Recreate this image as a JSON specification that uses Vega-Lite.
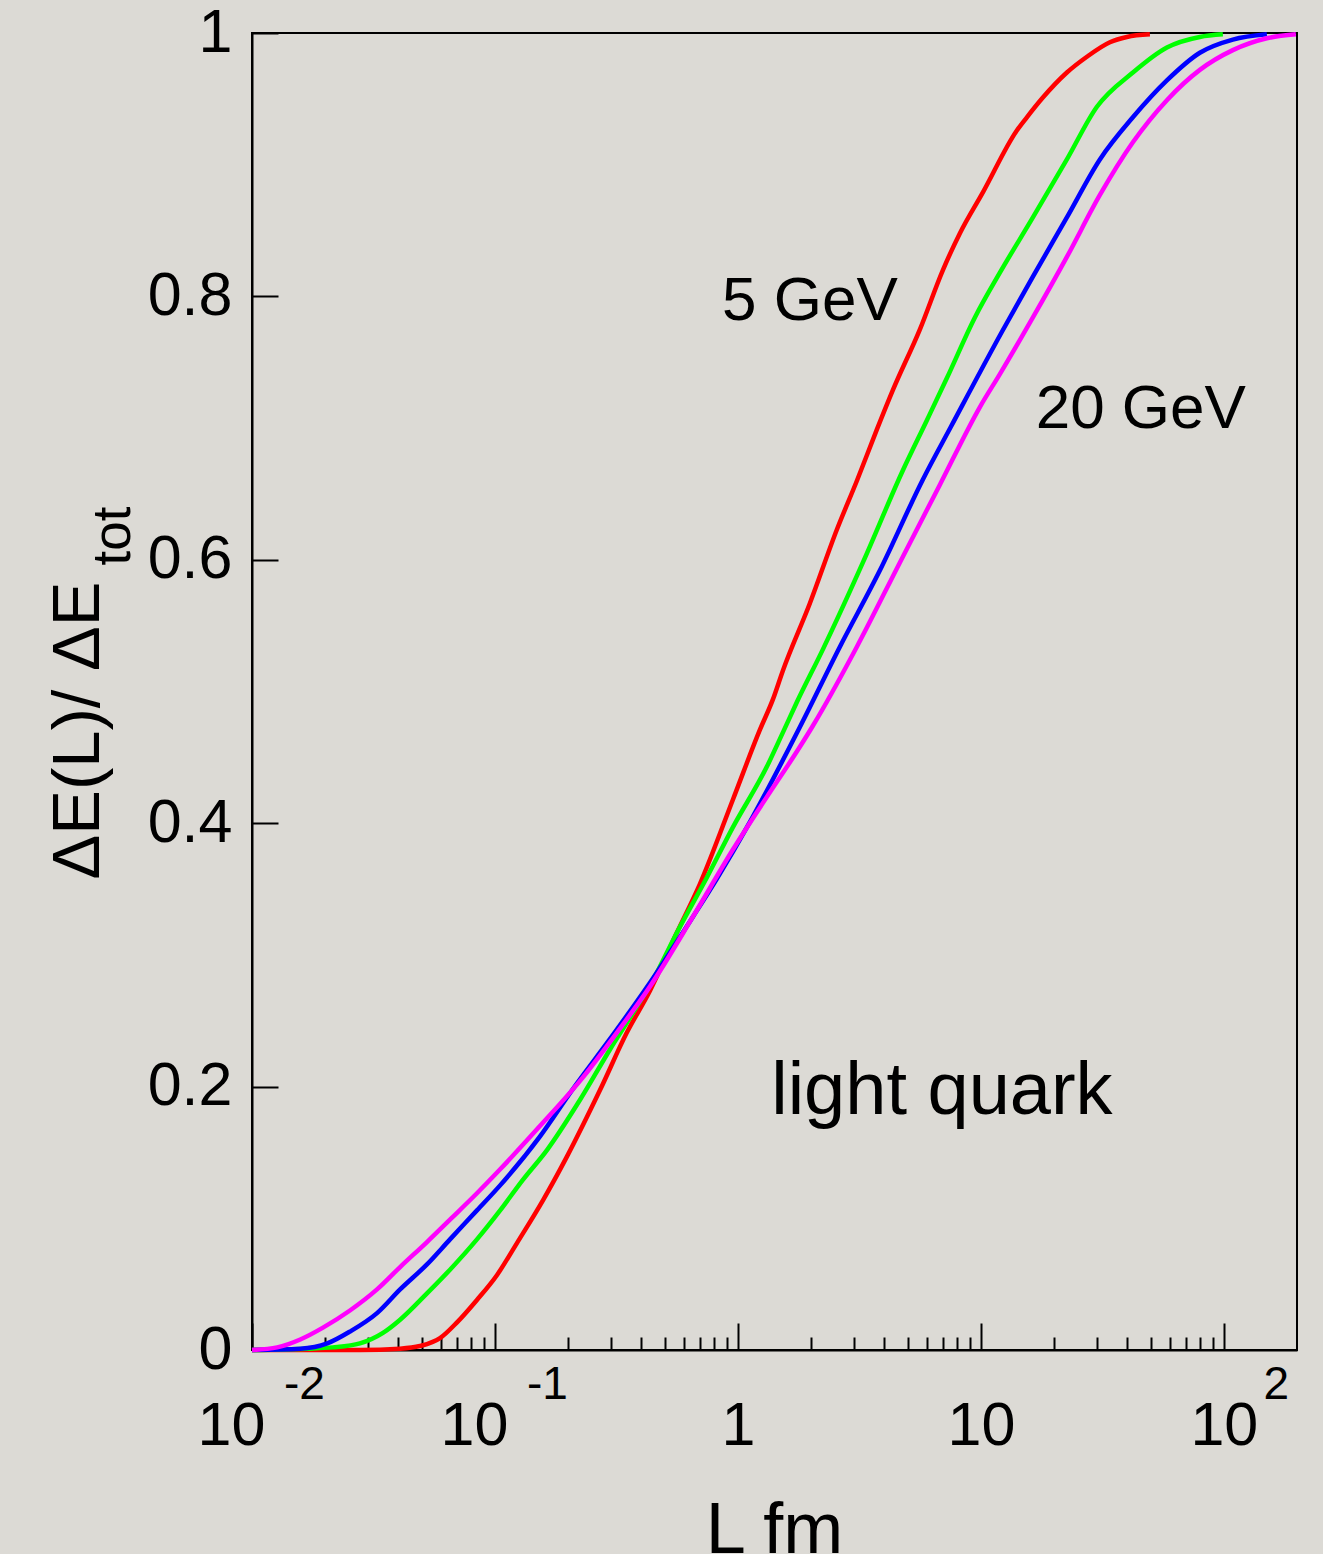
{
  "$schema": "https://vega.github.io/schema/vega-lite/v6.json",
  "width": 1045,
  "height": 1317,
  "autosize": {"type": "none"},
  "padding": {"left": 252, "top": 33, "right": 26, "bottom": 204},
  "background": "#dcdad5",
  "config": {
    "font": "Liberation Sans",
    "view": {"stroke": "#000000", "strokeWidth": 2},
    "axis": {"grid": false}
  },
  "resolve": {"axis": {"x": "independent", "y": "independent"}},
  "layer": [
    {
      "data": {
        "values": [
          {"s": "curve 1 (5 GeV)", "L": 0.01, "f": 0},
          {"s": "curve 1 (5 GeV)", "L": 0.0278, "f": 0},
          {"s": "curve 1 (5 GeV)", "L": 0.0407, "f": 0.001},
          {"s": "curve 1 (5 GeV)", "L": 0.0491, "f": 0.003},
          {"s": "curve 1 (5 GeV)", "L": 0.0594, "f": 0.009},
          {"s": "curve 1 (5 GeV)", "L": 0.0698, "f": 0.021},
          {"s": "curve 1 (5 GeV)", "L": 0.0843, "f": 0.038},
          {"s": "curve 1 (5 GeV)", "L": 0.102, "f": 0.057},
          {"s": "curve 1 (5 GeV)", "L": 0.123, "f": 0.081},
          {"s": "curve 1 (5 GeV)", "L": 0.158, "f": 0.114},
          {"s": "curve 1 (5 GeV)", "L": 0.198, "f": 0.147},
          {"s": "curve 1 (5 GeV)", "L": 0.27, "f": 0.197},
          {"s": "curve 1 (5 GeV)", "L": 0.349, "f": 0.241},
          {"s": "curve 1 (5 GeV)", "L": 0.435, "f": 0.273},
          {"s": "curve 1 (5 GeV)", "L": 0.561, "f": 0.317},
          {"s": "curve 1 (5 GeV)", "L": 0.698, "f": 0.354},
          {"s": "curve 1 (5 GeV)", "L": 0.954, "f": 0.418},
          {"s": "curve 1 (5 GeV)", "L": 1.232, "f": 0.471},
          {"s": "curve 1 (5 GeV)", "L": 1.393, "f": 0.494},
          {"s": "curve 1 (5 GeV)", "L": 1.532, "f": 0.516},
          {"s": "curve 1 (5 GeV)", "L": 1.978, "f": 0.567},
          {"s": "curve 1 (5 GeV)", "L": 2.555, "f": 0.623},
          {"s": "curve 1 (5 GeV)", "L": 3.088, "f": 0.66},
          {"s": "curve 1 (5 GeV)", "L": 3.733, "f": 0.699},
          {"s": "curve 1 (5 GeV)", "L": 4.345, "f": 0.729},
          {"s": "curve 1 (5 GeV)", "L": 5.611, "f": 0.775},
          {"s": "curve 1 (5 GeV)", "L": 6.976, "f": 0.82},
          {"s": "curve 1 (5 GeV)", "L": 8.198, "f": 0.848},
          {"s": "curve 1 (5 GeV)", "L": 10.19, "f": 0.879},
          {"s": "curve 1 (5 GeV)", "L": 14.06, "f": 0.926},
          {"s": "curve 1 (5 GeV)", "L": 15.46, "f": 0.936},
          {"s": "curve 1 (5 GeV)", "L": 17.99, "f": 0.951},
          {"s": "curve 1 (5 GeV)", "L": 22.59, "f": 0.97},
          {"s": "curve 1 (5 GeV)", "L": 27.31, "f": 0.982},
          {"s": "curve 1 (5 GeV)", "L": 33.96, "f": 0.993},
          {"s": "curve 1 (5 GeV)", "L": 39.89, "f": 0.997},
          {"s": "curve 1 (5 GeV)", "L": 49.61, "f": 0.999},

          {"s": "curve 2", "L": 0.01, "f": 0},
          {"s": "curve 2", "L": 0.0168, "f": 0.001},
          {"s": "curve 2", "L": 0.0215, "f": 0.002},
          {"s": "curve 2", "L": 0.0278, "f": 0.005},
          {"s": "curve 2", "L": 0.0346, "f": 0.013},
          {"s": "curve 2", "L": 0.0407, "f": 0.023},
          {"s": "curve 2", "L": 0.0525, "f": 0.043},
          {"s": "curve 2", "L": 0.0653, "f": 0.061},
          {"s": "curve 2", "L": 0.0843, "f": 0.084},
          {"s": "curve 2", "L": 0.105, "f": 0.106},
          {"s": "curve 2", "L": 0.13, "f": 0.129},
          {"s": "curve 2", "L": 0.164, "f": 0.152},
          {"s": "curve 2", "L": 0.224, "f": 0.19},
          {"s": "curve 2", "L": 0.297, "f": 0.228},
          {"s": "curve 2", "L": 0.37, "f": 0.256},
          {"s": "curve 2", "L": 0.447, "f": 0.281},
          {"s": "curve 2", "L": 0.561, "f": 0.317},
          {"s": "curve 2", "L": 0.746, "f": 0.359},
          {"s": "curve 2", "L": 0.954, "f": 0.397},
          {"s": "curve 2", "L": 1.316, "f": 0.443},
          {"s": "curve 2", "L": 1.532, "f": 0.469},
          {"s": "curve 2", "L": 1.749, "f": 0.492},
          {"s": "curve 2", "L": 2.237, "f": 0.532},
          {"s": "curve 2", "L": 3.269, "f": 0.598},
          {"s": "curve 2", "L": 4.776, "f": 0.668},
          {"s": "curve 2", "L": 5.995, "f": 0.706},
          {"s": "curve 2", "L": 7.246, "f": 0.738},
          {"s": "curve 2", "L": 9.447, "f": 0.784},
          {"s": "curve 2", "L": 11.97, "f": 0.818},
          {"s": "curve 2", "L": 16.37, "f": 0.86},
          {"s": "curve 2", "L": 22.59, "f": 0.904},
          {"s": "curve 2", "L": 30.03, "f": 0.944},
          {"s": "curve 2", "L": 42.22, "f": 0.97},
          {"s": "curve 2", "L": 58.28, "f": 0.989},
          {"s": "curve 2", "L": 79.65, "f": 0.997},
          {"s": "curve 2", "L": 99.06, "f": 0.999},

          {"s": "curve 3", "L": 0.01, "f": 0},
          {"s": "curve 3", "L": 0.0158, "f": 0.001},
          {"s": "curve 3", "L": 0.0204, "f": 0.005},
          {"s": "curve 3", "L": 0.0253, "f": 0.014},
          {"s": "curve 3", "L": 0.0327, "f": 0.028},
          {"s": "curve 3", "L": 0.0407, "f": 0.046},
          {"s": "curve 3", "L": 0.0525, "f": 0.065},
          {"s": "curve 3", "L": 0.0653, "f": 0.084},
          {"s": "curve 3", "L": 0.0843, "f": 0.106},
          {"s": "curve 3", "L": 0.105, "f": 0.125},
          {"s": "curve 3", "L": 0.153, "f": 0.162},
          {"s": "curve 3", "L": 0.209, "f": 0.198},
          {"s": "curve 3", "L": 0.297, "f": 0.236},
          {"s": "curve 3", "L": 0.435, "f": 0.279},
          {"s": "curve 3", "L": 0.653, "f": 0.329},
          {"s": "curve 3", "L": 0.82, "f": 0.358},
          {"s": "curve 3", "L": 1.121, "f": 0.401},
          {"s": "curve 3", "L": 1.799, "f": 0.473},
          {"s": "curve 3", "L": 2.629, "f": 0.534},
          {"s": "curve 3", "L": 3.841, "f": 0.592},
          {"s": "curve 3", "L": 5.772, "f": 0.661},
          {"s": "curve 3", "L": 7.525, "f": 0.701},
          {"s": "curve 3", "L": 12.32, "f": 0.7745},
          {"s": "curve 3", "L": 16.37, "f": 0.815},
          {"s": "curve 3", "L": 22.59, "f": 0.86},
          {"s": "curve 3", "L": 30.89, "f": 0.904},
          {"s": "curve 3", "L": 42.22, "f": 0.936},
          {"s": "curve 3", "L": 58.28, "f": 0.964},
          {"s": "curve 3", "L": 79.65, "f": 0.985},
          {"s": "curve 3", "L": 108.9, "f": 0.995},
          {"s": "curve 3", "L": 150.3, "f": 0.999},

          {"s": "curve 4 (20 GeV)", "L": 0.01, "f": 0},
          {"s": "curve 4 (20 GeV)", "L": 0.0127, "f": 0.002},
          {"s": "curve 4 (20 GeV)", "L": 0.0158, "f": 0.008},
          {"s": "curve 4 (20 GeV)", "L": 0.0196, "f": 0.017},
          {"s": "curve 4 (20 GeV)", "L": 0.0253, "f": 0.03},
          {"s": "curve 4 (20 GeV)", "L": 0.0327, "f": 0.046},
          {"s": "curve 4 (20 GeV)", "L": 0.0407, "f": 0.063},
          {"s": "curve 4 (20 GeV)", "L": 0.0525, "f": 0.082},
          {"s": "curve 4 (20 GeV)", "L": 0.0653, "f": 0.099},
          {"s": "curve 4 (20 GeV)", "L": 0.0843, "f": 0.119},
          {"s": "curve 4 (20 GeV)", "L": 0.1048, "f": 0.137},
          {"s": "curve 4 (20 GeV)", "L": 0.1531, "f": 0.17},
          {"s": "curve 4 (20 GeV)", "L": 0.2301, "f": 0.207},
          {"s": "curve 4 (20 GeV)", "L": 0.3177, "f": 0.241},
          {"s": "curve 4 (20 GeV)", "L": 0.4345, "f": 0.276},
          {"s": "curve 4 (20 GeV)", "L": 0.6529, "f": 0.329},
          {"s": "curve 4 (20 GeV)", "L": 0.9537, "f": 0.38},
          {"s": "curve 4 (20 GeV)", "L": 1.316, "f": 0.42},
          {"s": "curve 4 (20 GeV)", "L": 1.799, "f": 0.458},
          {"s": "curve 4 (20 GeV)", "L": 2.035, "f": 0.474},
          {"s": "curve 4 (20 GeV)", "L": 3.088, "f": 0.534},
          {"s": "curve 4 (20 GeV)", "L": 4.642, "f": 0.598},
          {"s": "curve 4 (20 GeV)", "L": 6.78, "f": 0.657},
          {"s": "curve 4 (20 GeV)", "L": 9.906, "f": 0.716},
          {"s": "curve 4 (20 GeV)", "L": 11.97, "f": 0.741},
          {"s": "curve 4 (20 GeV)", "L": 16.37, "f": 0.784},
          {"s": "curve 4 (20 GeV)", "L": 22.59, "f": 0.83},
          {"s": "curve 4 (20 GeV)", "L": 30.89, "f": 0.877},
          {"s": "curve 4 (20 GeV)", "L": 42.22, "f": 0.917},
          {"s": "curve 4 (20 GeV)", "L": 58.28, "f": 0.949},
          {"s": "curve 4 (20 GeV)", "L": 79.65, "f": 0.972},
          {"s": "curve 4 (20 GeV)", "L": 108.9, "f": 0.987},
          {"s": "curve 4 (20 GeV)", "L": 150.3, "f": 0.996},
          {"s": "curve 4 (20 GeV)", "L": 197.9, "f": 0.999}
        ]
      },
      "mark": {"type": "line", "strokeWidth": 4.5, "interpolate": "monotone"},
      "encoding": {
        "x": {
          "field": "L",
          "type": "quantitative",
          "scale": {"type": "log", "domain": [0.01, 200], "nice": false},
          "axis": {
            "orient": "bottom",
            "values": [0.01, 0.1, 1, 10, 100],
            "labelExpr": "datum.value < 0.5 ? '' : (datum.value == 1 ? '1' : '10')",
            "tickSize": -27,
            "tickWidth": 2,
            "tickColor": "#000000",
            "domainColor": "#000000",
            "domainWidth": 2,
            "labelFontSize": 61,
            "labelColor": "#000000",
            "labelBaseline": "alphabetic",
            "labelAlign": "center",
            "labelPadding": 121,
            "labelFlush": false,
            "labelOverlap": false,
            "labelBound": false,
            "title": "L fm",
            "titleFontSize": 72,
            "titleFontWeight": "normal",
            "titleColor": "#000000",
            "titleX": 522,
            "titleY": 202,
            "titleAlign": "center",
            "titleBaseline": "alphabetic"
          }
        },
        "y": {
          "field": "f",
          "type": "quantitative",
          "scale": {"domain": [0, 1], "nice": false},
          "axis": {
            "orient": "left",
            "values": [0, 0.2, 0.4, 0.6, 0.8, 1],
            "format": "~g",
            "tickSize": -26,
            "tickWidth": 2,
            "tickColor": "#000000",
            "domainColor": "#000000",
            "domainWidth": 2,
            "labelFontSize": 61,
            "labelColor": "#000000",
            "labelPadding": 46,
            "labelBaseline": "middle",
            "labelFlush": false,
            "labelOverlap": false,
            "labelBound": false,
            "title": "ΔE(L)/ ΔE",
            "titleFontSize": 67,
            "titleFontWeight": "normal",
            "titleColor": "#000000",
            "titleAngle": -90,
            "titleX": -154,
            "titleY": 697,
            "titleAlign": "center",
            "titleBaseline": "alphabetic"
          }
        },
        "color": {
          "field": "s",
          "type": "nominal",
          "scale": {
            "domain": ["curve 1 (5 GeV)", "curve 2", "curve 3", "curve 4 (20 GeV)"],
            "range": ["#ff0000", "#00ff00", "#0000ff", "#ff00ff"]
          },
          "legend": null
        }
      }
    },
    {
      "data": {
        "values": [
          {"t": "5 GeV", "L": 1.98, "f": 0.782}
        ]
      },
      "mark": {"type": "text", "fontSize": 62, "align": "center", "baseline": "alphabetic", "color": "#000000"},
      "encoding": {
        "x": {
          "field": "L",
          "type": "quantitative",
          "axis": {
            "orient": "bottom",
            "values": [0.01, 0.1, 100],
            "labelExpr": "datum.value > 50 ? '2' : (datum.value > 0.05 ? '-1' : '-2')",
            "ticks": false,
            "tickSize": 0,
            "domain": false,
            "labelFontSize": 46,
            "labelColor": "#000000",
            "labelBaseline": "alphabetic",
            "labelAlign": "center",
            "labelPadding": 48,
            "labelOffset": 52,
            "labelFlush": false,
            "labelOverlap": false,
            "labelBound": false,
            "title": null
          }
        },
        "y": {
          "field": "f",
          "type": "quantitative",
          "axis": {
            "orient": "left",
            "ticks": false,
            "labels": false,
            "domain": false,
            "title": "tot",
            "titleFontSize": 53,
            "titleFontWeight": "normal",
            "titleColor": "#000000",
            "titleAngle": -90,
            "titleX": -123,
            "titleY": 532,
            "titleAlign": "left",
            "titleBaseline": "alphabetic"
          }
        },
        "text": {"field": "t", "type": "nominal"}
      }
    },
    {
      "data": {
        "values": [
          {"t": "20 GeV", "L": 45.5, "f": 0.7}
        ]
      },
      "mark": {"type": "text", "fontSize": 62, "align": "center", "baseline": "alphabetic", "color": "#000000"},
      "encoding": {
        "x": {
          "field": "L",
          "type": "quantitative",
          "axis": {
            "orient": "bottom",
            "values": [0.01, 0.1],
            "labelExpr": "'10'",
            "ticks": false,
            "tickSize": 0,
            "domain": false,
            "labelFontSize": 61,
            "labelColor": "#000000",
            "labelBaseline": "alphabetic",
            "labelAlign": "center",
            "labelPadding": 94,
            "labelOffset": -21,
            "labelFlush": false,
            "labelOverlap": false,
            "labelBound": false,
            "title": null
          }
        },
        "y": {"field": "f", "type": "quantitative", "axis": null},
        "text": {"field": "t", "type": "nominal"}
      }
    },
    {
      "data": {
        "values": [
          {"t": "light quark", "L": 6.91, "f": 0.179}
        ]
      },
      "mark": {"type": "text", "fontSize": 74, "align": "center", "baseline": "alphabetic", "color": "#000000"},
      "encoding": {
        "x": {
          "field": "L",
          "type": "quantitative",
          "axis": {
            "orient": "bottom",
            "values": [0.02, 0.03, 0.04, 0.05, 0.06, 0.07, 0.08, 0.09, 0.2, 0.3, 0.4, 0.5, 0.6, 0.7, 0.8, 0.9, 2, 3, 4, 5, 6, 7, 8, 9, 20, 30, 40, 50, 60, 70, 80, 90],
            "labels": false,
            "domain": false,
            "tickSize": -13,
            "tickWidth": 2,
            "tickColor": "#000000",
            "title": null
          }
        },
        "y": {"field": "f", "type": "quantitative", "axis": null},
        "text": {"field": "t", "type": "nominal"}
      }
    }
  ]
}
